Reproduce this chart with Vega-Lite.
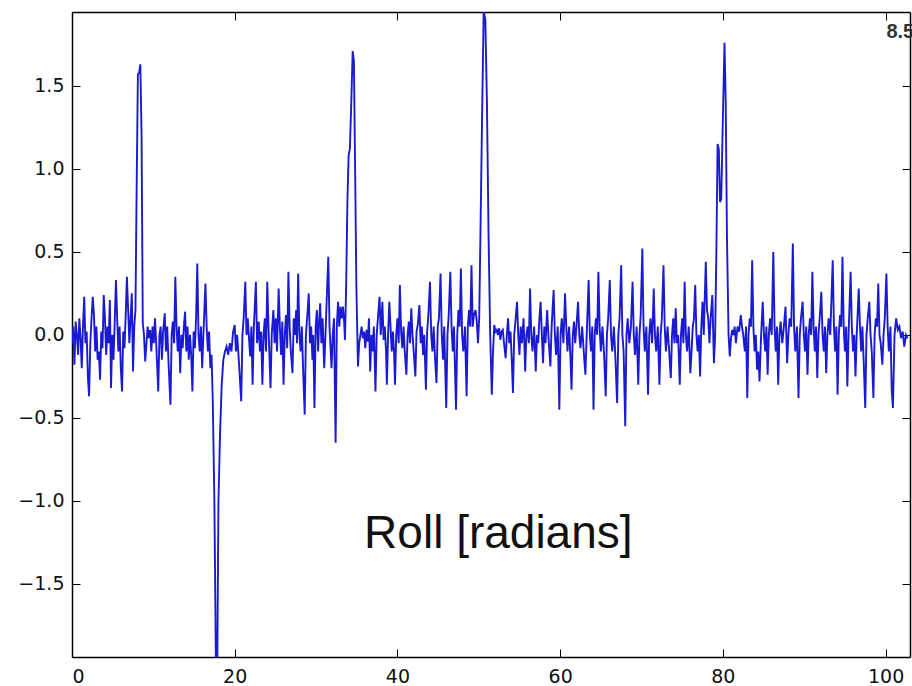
{
"$schema":"https://vega.github.io/schema/vega-lite/v6.json",
"width":838,"height":645,
"autosize":{"type":"none"},
"padding":{"left":72,"top":12,"right":2,"bottom":29},
"background":"white",
"config":{"view":{"stroke":null},"axis":{"grid":false,"domainColor":"#000","domainWidth":1.5,"tickColor":"#000","tickWidth":1,"tickSize":-8,"labelFont":"DejaVu Sans","labelFontSize":19,"labelColor":"#111","title":null}},
"datasets":{
"roll":[
{"x":0.0,"y":-0.05},{"x":0.15,"y":0.05},{"x":0.3,"y":-0.18},{"x":0.45,"y":0.08},{"x":0.6,"y":0.0},{"x":0.75,"y":-0.12},{"x":0.9,"y":0.1},{"x":1.05,"y":-0.02},{"x":1.2,"y":-0.2},{"x":1.35,"y":0.05},{"x":1.5,"y":0.23},{"x":1.65,"y":-0.05},{"x":1.8,"y":0.02},{"x":1.95,"y":-0.25},{"x":2.1,"y":-0.37},{"x":2.25,"y":-0.05},{"x":2.4,"y":0.1},{"x":2.55,"y":0.23},{"x":2.7,"y":0.12},{"x":2.85,"y":-0.1},{"x":3.0,"y":0.05},{"x":3.15,"y":-0.15},{"x":3.3,"y":-0.1},{"x":3.45,"y":-0.27},{"x":3.6,"y":0.02},{"x":3.75,"y":-0.08},{"x":3.9,"y":0.24},{"x":4.05,"y":0.1},{"x":4.2,"y":-0.12},{"x":4.35,"y":0.05},{"x":4.5,"y":-0.05},{"x":4.65,"y":0.21},{"x":4.8,"y":-0.32},{"x":4.95,"y":0.0},{"x":5.1,"y":-0.15},{"x":5.25,"y":0.08},{"x":5.4,"y":0.33},{"x":5.55,"y":0.1},{"x":5.7,"y":-0.1},{"x":5.85,"y":0.05},{"x":6.0,"y":-0.2},{"x":6.15,"y":-0.34},{"x":6.3,"y":0.02},{"x":6.45,"y":-0.08},{"x":6.6,"y":0.12},{"x":6.75,"y":0.35},{"x":6.9,"y":0.15},{"x":7.05,"y":-0.05},{"x":7.2,"y":0.1},{"x":7.35,"y":0.25},{"x":7.5,"y":-0.22},{"x":7.65,"y":0.05},{"x":7.8,"y":0.15},{"x":7.95,"y":0.9},{"x":8.1,"y":1.57},{"x":8.25,"y":1.58},{"x":8.4,"y":1.63},{"x":8.55,"y":1.2},{"x":8.7,"y":0.07},
{"x":8.85,"y":0.0},{"x":9.0,"y":-0.16},{"x":9.15,"y":-0.05},{"x":9.3,"y":0.05},{"x":9.45,"y":-0.02},{"x":9.6,"y":0.03},{"x":9.75,"y":-0.1},{"x":9.9,"y":0.05},{"x":10.05,"y":-0.05},{"x":10.2,"y":0.1},{"x":10.35,"y":-0.05},{"x":10.6,"y":-0.34},{"x":10.75,"y":0.0},{"x":10.9,"y":0.05},{"x":11.05,"y":-0.15},{"x":11.2,"y":0.02},{"x":11.4,"y":0.13},{"x":11.55,"y":-0.1},{"x":11.7,"y":0.05},{"x":11.85,"y":-0.15},{"x":12.1,"y":-0.42},{"x":12.25,"y":0.0},{"x":12.4,"y":0.08},{"x":12.55,"y":-0.05},{"x":12.7,"y":0.35},{"x":12.85,"y":0.05},{"x":13.0,"y":-0.1},{"x":13.15,"y":0.05},{"x":13.3,"y":-0.23},{"x":13.45,"y":0.0},{"x":13.6,"y":-0.08},{"x":13.75,"y":0.05},{"x":13.9,"y":0.14},{"x":14.05,"y":-0.1},{"x":14.2,"y":0.05},{"x":14.35,"y":-0.15},{"x":14.5,"y":0.0},{"x":14.65,"y":-0.12},{"x":14.8,"y":-0.34},{"x":14.95,"y":0.02},{"x":15.1,"y":-0.08},{"x":15.25,"y":0.1},{"x":15.4,"y":0.43},{"x":15.55,"y":0.0},{"x":15.7,"y":-0.1},{"x":15.85,"y":0.05},{"x":16.0,"y":-0.2},{"x":16.15,"y":0.0},{"x":16.4,"y":0.31},{"x":16.55,"y":0.05},{"x":16.7,"y":-0.1},{"x":16.85,"y":0.02},{"x":17.0,"y":-0.2},{"x":17.15,"y":-0.12},{"x":17.3,"y":-0.39},{"x":17.5,"y":-1.0},{"x":17.7,"y":-2.05},{"x":17.85,"y":-2.05},{"x":18.0,"y":-1.0},{"x":18.2,"y":-0.59},{"x":18.4,"y":-0.3},{"x":18.6,"y":-0.15},{"x":18.8,"y":-0.1},{"x":19.0,"y":-0.07},{"x":19.2,"y":-0.12},{"x":19.4,"y":-0.05},{"x":19.6,"y":-0.1},{"x":19.8,"y":0.02},
{"x":20.0,"y":0.06},{"x":20.15,"y":-0.1},{"x":20.3,"y":0.0},{"x":20.5,"y":-0.15},{"x":20.8,"y":-0.4},{"x":20.95,"y":0.0},{"x":21.1,"y":0.1},{"x":21.3,"y":0.32},{"x":21.45,"y":0.0},{"x":21.6,"y":0.1},{"x":21.9,"y":-0.13},{"x":22.05,"y":0.05},{"x":22.2,"y":-0.3},{"x":22.35,"y":0.05},{"x":22.45,"y":0.15},{"x":22.6,"y":0.32},{"x":22.75,"y":-0.05},{"x":22.95,"y":0.08},{"x":23.1,"y":-0.1},{"x":23.25,"y":0.02},{"x":23.4,"y":-0.3},{"x":23.55,"y":0.0},{"x":23.7,"y":0.1},{"x":23.85,"y":-0.1},{"x":24.0,"y":0.32},{"x":24.15,"y":0.05},{"x":24.4,"y":-0.32},{"x":24.55,"y":0.0},{"x":24.75,"y":0.15},{"x":24.9,"y":-0.05},{"x":25.05,"y":0.1},{"x":25.2,"y":-0.1},{"x":25.4,"y":0.28},{"x":25.55,"y":0.05},{"x":25.7,"y":-0.12},{"x":25.85,"y":0.08},{"x":26.0,"y":-0.3},{"x":26.15,"y":0.0},{"x":26.3,"y":0.12},{"x":26.45,"y":-0.08},{"x":26.6,"y":0.38},{"x":26.75,"y":0.05},{"x":26.9,"y":-0.1},{"x":27.1,"y":-0.23},{"x":27.25,"y":0.1},{"x":27.4,"y":0.0},{"x":27.55,"y":0.15},{"x":27.65,"y":-0.05},{"x":27.8,"y":0.37},{"x":27.95,"y":0.0},{"x":28.1,"y":-0.1},{"x":28.25,"y":0.05},{"x":28.4,"y":-0.2},{"x":28.6,"y":-0.48},{"x":28.75,"y":0.0},{"x":28.9,"y":0.1},{"x":29.1,"y":0.25},{"x":29.25,"y":-0.05},{"x":29.4,"y":0.05},{"x":29.55,"y":-0.15},{"x":29.65,"y":0.0},{"x":29.8,"y":-0.44},{"x":29.95,"y":0.05},{"x":30.1,"y":0.15},{"x":30.25,"y":-0.1},{"x":30.35,"y":0.05},{"x":30.5,"y":0.19},{"x":30.65,"y":-0.05},{"x":30.8,"y":0.1},{"x":31.0,"y":-0.2},{"x":31.15,"y":0.0},{"x":31.3,"y":0.2},{"x":31.5,"y":0.47},{"x":31.65,"y":0.05},{"x":31.9,"y":-0.2},{"x":32.05,"y":0.0},{"x":32.2,"y":0.1},{"x":32.4,"y":-0.65},{"x":32.55,"y":0.05},{"x":32.7,"y":0.2},{"x":32.85,"y":0.05},{"x":33.0,"y":0.17},{"x":33.15,"y":0.1},{"x":33.3,"y":0.17},{"x":33.45,"y":0.08},{"x":33.55,"y":-0.03},{"x":33.7,"y":0.3},{"x":33.85,"y":0.8},{"x":34.0,"y":1.08},{"x":34.15,"y":1.12},{"x":34.3,"y":1.35},{"x":34.5,"y":1.71},{"x":34.65,"y":1.65},{"x":34.8,"y":1.0},{"x":34.95,"y":0.3},{"x":35.15,"y":-0.19},{"x":35.3,"y":-0.05},{"x":35.45,"y":0.0},{"x":35.6,"y":0.05},{"x":35.75,"y":-0.02},{"x":35.9,"y":0.02},{"x":36.05,"y":-0.08},{"x":36.2,"y":0.03},{"x":36.35,"y":-0.04},{"x":36.5,"y":0.1},{"x":36.65,"y":-0.22},{"x":36.8,"y":0.0},{"x":36.95,"y":-0.1},{"x":37.1,"y":0.05},{"x":37.3,"y":-0.34},{"x":37.45,"y":0.0},{"x":37.6,"y":0.1},{"x":37.8,"y":0.23},{"x":37.95,"y":0.0},
{"x":38.15,"y":0.2},{"x":38.3,"y":-0.03},{"x":38.45,"y":0.05},{"x":38.6,"y":-0.1},{"x":38.7,"y":-0.3},{"x":38.85,"y":0.0},{"x":39.0,"y":0.2},{"x":39.15,"y":0.05},{"x":39.3,"y":-0.1},{"x":39.45,"y":0.02},{"x":39.6,"y":-0.12},{"x":39.7,"y":-0.3},{"x":39.85,"y":0.0},{"x":40.0,"y":0.1},{"x":40.15,"y":-0.05},{"x":40.3,"y":0.3},{"x":40.45,"y":0.02},{"x":40.6,"y":-0.08},{"x":40.75,"y":0.05},{"x":40.9,"y":-0.1},{"x":41.1,"y":-0.24},{"x":41.25,"y":0.0},{"x":41.4,"y":0.08},{"x":41.55,"y":-0.05},{"x":41.7,"y":0.16},{"x":41.85,"y":0.0},{"x":42.0,"y":-0.1},{"x":42.2,"y":-0.25},{"x":42.35,"y":0.02},{"x":42.5,"y":0.06},{"x":42.7,"y":0.18},{"x":42.85,"y":-0.05},{"x":43.0,"y":0.05},{"x":43.15,"y":-0.12},{"x":43.3,"y":0.0},{"x":43.5,"y":-0.33},{"x":43.65,"y":0.02},{"x":43.8,"y":0.12},{"x":44.0,"y":0.32},{"x":44.15,"y":0.0},{"x":44.3,"y":-0.1},{"x":44.45,"y":0.05},{"x":44.6,"y":-0.12},{"x":44.8,"y":-0.29},{"x":44.95,"y":0.05},{"x":45.1,"y":0.1},{"x":45.3,"y":0.37},{"x":45.45,"y":0.0},{"x":45.6,"y":-0.15},{"x":45.75,"y":0.05},{"x":46.0,"y":-0.44},{"x":46.15,"y":0.0},{"x":46.3,"y":0.12},{"x":46.5,"y":0.38},{"x":46.65,"y":0.05},{"x":46.8,"y":-0.1},{"x":46.95,"y":0.05},{"x":47.2,"y":-0.45},{"x":47.35,"y":0.0},{"x":47.5,"y":0.15},{"x":47.65,"y":0.05},{"x":47.8,"y":0.4},{"x":47.95,"y":0.0},{"x":48.1,"y":-0.1},{"x":48.3,"y":0.05},{"x":48.5,"y":-0.37},{"x":48.65,"y":0.05},{"x":48.8,"y":0.15},{"x":48.95,"y":0.05},{"x":49.1,"y":0.42},{"x":49.25,"y":0.05},{"x":49.4,"y":0.12},{"x":49.6,"y":0.15},{"x":49.75,"y":0.08},{"x":49.9,"y":-0.05},{"x":50.05,"y":0.1},{"x":50.2,"y":0.6},{"x":50.4,"y":1.3},{"x":50.6,"y":1.95},{"x":50.8,"y":1.9},{"x":51.0,"y":1.4},{"x":51.2,"y":0.6},{"x":51.4,"y":0.0},{"x":51.6,"y":-0.36},{"x":51.75,"y":-0.1},{"x":51.9,"y":0.06},{"x":52.05,"y":0.02},{"x":52.2,"y":0.03},{"x":52.35,"y":0.0},{"x":52.5,"y":0.04},{"x":52.65,"y":-0.03},{"x":52.8,"y":0.02},{"x":52.95,"y":0.03},{"x":53.1,"y":-0.05},{"x":53.3,"y":-0.14},{"x":53.45,"y":0.0},{"x":53.6,"y":0.1},{"x":53.75,"y":-0.05},{"x":53.9,"y":0.02},{"x":54.05,"y":-0.15},{"x":54.2,"y":-0.35},{"x":54.35,"y":0.0},{"x":54.5,"y":0.08},{"x":54.7,"y":0.2},{"x":54.85,"y":0.0},{"x":55.0,"y":-0.12},{"x":55.15,"y":0.05},{"x":55.3,"y":-0.05},{"x":55.5,"y":0.1},{"x":55.7,"y":-0.22},{"x":55.85,"y":0.0},{"x":56.0,"y":0.05},{"x":56.15,"y":-0.05},{"x":56.3,"y":0.28},{"x":56.45,"y":0.0},{"x":56.6,"y":-0.1},{"x":56.8,"y":0.05},{"x":57.0,"y":-0.22},{"x":57.15,"y":0.0},{"x":57.3,"y":-0.05},{"x":57.45,"y":0.1},
{"x":57.6,"y":0.2},{"x":57.75,"y":0.0},{"x":57.9,"y":-0.17},{"x":58.05,"y":0.05},{"x":58.2,"y":-0.05},{"x":58.4,"y":0.15},{"x":58.55,"y":0.0},{"x":58.8,"y":-0.19},{"x":58.95,"y":0.05},{"x":59.2,"y":0.27},{"x":59.35,"y":0.0},{"x":59.5,"y":-0.12},{"x":59.7,"y":0.05},{"x":59.9,"y":-0.45},{"x":60.05,"y":0.0},{"x":60.2,"y":0.1},{"x":60.4,"y":-0.05},{"x":60.6,"y":0.25},{"x":60.75,"y":0.05},{"x":60.9,"y":-0.1},{"x":61.1,"y":0.05},{"x":61.25,"y":-0.12},{"x":61.4,"y":-0.33},{"x":61.55,"y":0.0},{"x":61.7,"y":0.08},{"x":61.85,"y":-0.05},{"x":62.0,"y":0.05},{"x":62.2,"y":0.2},{"x":62.35,"y":0.0},{"x":62.5,"y":-0.08},{"x":62.7,"y":0.05},{"x":62.9,"y":-0.1},{"x":63.1,"y":-0.24},{"x":63.3,"y":0.05},{"x":63.5,"y":0.33},{"x":63.65,"y":0.0},{"x":63.8,"y":-0.1},{"x":63.95,"y":0.05},{"x":64.1,"y":-0.45},{"x":64.25,"y":0.0},{"x":64.4,"y":0.1},{"x":64.55,"y":0.0},{"x":64.7,"y":0.38},{"x":64.85,"y":0.05},{"x":65.0,"y":-0.1},{"x":65.2,"y":0.05},{"x":65.4,"y":-0.12},{"x":65.6,"y":-0.37},{"x":65.75,"y":0.0},{"x":65.9,"y":0.1},{"x":66.1,"y":0.33},{"x":66.25,"y":0.0},{"x":66.4,"y":-0.1},{"x":66.6,"y":0.05},{"x":66.8,"y":-0.15},{"x":67.0,"y":-0.41},{"x":67.15,"y":0.0},{"x":67.3,"y":0.1},{"x":67.5,"y":0.42},{"x":67.65,"y":0.0},{"x":67.8,"y":-0.1},{"x":68.0,"y":-0.55},{"x":68.15,"y":0.0},{"x":68.3,"y":0.1},{"x":68.5,"y":-0.05},{"x":68.7,"y":0.05},{"x":68.9,"y":0.32},{"x":69.05,"y":0.0},{"x":69.2,"y":-0.12},{"x":69.4,"y":0.05},{"x":69.6,"y":-0.3},{"x":69.75,"y":0.0},{"x":69.9,"y":0.12},{"x":70.1,"y":0.52},{"x":70.25,"y":0.05},{"x":70.4,"y":-0.1},{"x":70.6,"y":0.05},{"x":70.8,"y":-0.36},{"x":70.95,"y":0.0},{"x":71.1,"y":0.1},{"x":71.3,"y":-0.05},{"x":71.5,"y":0.28},{"x":71.65,"y":0.0},{"x":71.8,"y":-0.1},{"x":72.0,"y":0.05},{"x":72.2,"y":-0.3},{"x":72.35,"y":0.0},{"x":72.5,"y":0.1},{"x":72.7,"y":0.42},{"x":72.85,"y":0.05},{"x":73.0,"y":-0.1},{"x":73.2,"y":0.05},{"x":73.4,"y":-0.1},{"x":73.6,"y":-0.26},{"x":73.75,"y":0.0},{"x":73.9,"y":0.1},{"x":74.05,"y":-0.05},{"x":74.2,"y":0.16},{"x":74.35,"y":-0.05},{"x":74.5,"y":0.0},{"x":74.7,"y":-0.3},{"x":74.85,"y":0.0},{"x":75.0,"y":0.1},{"x":75.15,"y":-0.05},{"x":75.3,"y":0.32},{"x":75.45,"y":0.0},{"x":75.6,"y":-0.1},{"x":75.8,"y":0.05},{"x":76.0,"y":-0.23},{"x":76.15,"y":-0.1},{"x":76.3,"y":0.05},{"x":76.45,"y":0.1},{"x":76.6,"y":0.3},{"x":76.75,"y":0.0},{"x":76.9,"y":-0.1},{"x":77.05,"y":0.0},{"x":77.2,"y":-0.25},{"x":77.35,"y":0.05},{"x":77.5,"y":0.2},{"x":77.65,"y":0.0},{"x":77.9,"y":0.44},{"x":78.05,"y":0.15},{"x":78.2,"y":0.1},{"x":78.35,"y":-0.05},{"x":78.5,"y":0.1},{"x":78.7,"y":0.24},{"x":78.9,"y":-0.17},{"x":79.05,"y":0.0},{"x":79.2,"y":0.5},{"x":79.35,"y":1.15},{"x":79.5,"y":1.12},{"x":79.65,"y":0.8},{"x":79.8,"y":0.82},{"x":80.0,"y":1.3},{"x":80.2,"y":1.76},{"x":80.35,"y":1.4},{"x":80.5,"y":0.6},{"x":80.7,"y":0.0},{"x":80.85,"y":-0.13},{"x":81.0,"y":-0.02},{"x":81.15,"y":0.03},{"x":81.3,"y":0.0},{"x":81.45,"y":0.05},{"x":81.6,"y":-0.05},{"x":81.8,"y":0.05},{"x":82.0,"y":0.02},{"x":82.2,"y":0.12},{"x":82.35,"y":0.05},{"x":82.5,"y":0.0},{"x":82.7,"y":-0.1},{"x":82.85,"y":0.05},{"x":83.0,"y":-0.38},{"x":83.15,"y":0.0},{"x":83.3,"y":0.1},{"x":83.45,"y":0.05},{"x":83.6,"y":0.45},{"x":83.75,"y":0.05},{"x":83.9,"y":-0.1},{"x":84.05,"y":0.0},{"x":84.2,"y":-0.21},{"x":84.35,"y":-0.1},{"x":84.5,"y":-0.28},{"x":84.7,"y":0.0},{"x":84.9,"y":0.2},{"x":85.05,"y":0.0},{"x":85.2,"y":-0.1},{"x":85.35,"y":0.05},{"x":85.5,"y":-0.24},{"x":85.65,"y":0.0},{"x":85.8,"y":0.1},{"x":86.0,"y":0.0},{"x":86.2,"y":0.5},{"x":86.35,"y":0.05},{"x":86.5,"y":-0.1},{"x":86.65,"y":0.05},{"x":86.8,"y":-0.3},{"x":86.95,"y":0.0},{"x":87.1,"y":0.08},{"x":87.3,"y":-0.05},{"x":87.5,"y":0.05},{"x":87.7,"y":0.17},{"x":87.9,"y":-0.17},{"x":88.05,"y":0.0},{"x":88.2,"y":0.1},{"x":88.4,"y":0.05},{"x":88.6,"y":0.55},{"x":88.75,"y":0.05},{"x":88.9,"y":-0.1},{"x":89.1,"y":0.05},{"x":89.3,"y":-0.38},{"x":89.45,"y":0.0},{"x":89.6,"y":0.1},{"x":89.8,"y":0.2},{"x":89.95,"y":0.0},{"x":90.1,"y":-0.1},{"x":90.25,"y":0.05},{"x":90.4,"y":-0.24},{"x":90.55,"y":0.0},{"x":90.7,"y":0.1},{"x":90.85,"y":0.0},{"x":91.0,"y":0.38},{"x":91.15,"y":0.05},{"x":91.3,"y":-0.1},{"x":91.45,"y":0.05},{"x":91.6,"y":-0.26},{"x":91.75,"y":0.0},{"x":91.9,"y":0.1},{"x":92.1,"y":0.26},{"x":92.25,"y":0.0},{"x":92.4,"y":-0.1},{"x":92.55,"y":0.05},{"x":92.7,"y":-0.23},{"x":92.85,"y":0.0},{"x":93.0,"y":0.1},{"x":93.2,"y":0.0},{"x":93.5,"y":0.45},{"x":93.65,"y":0.05},{"x":93.8,"y":-0.1},{"x":93.95,"y":0.05},{"x":94.1,"y":-0.36},{"x":94.25,"y":0.0},{"x":94.4,"y":0.12},{"x":94.55,"y":0.05},{"x":94.7,"y":0.47},{"x":94.85,"y":0.05},{"x":95.0,"y":-0.1},{"x":95.15,"y":0.05},{"x":95.3,"y":-0.31},{"x":95.45,"y":0.0},{"x":95.7,"y":0.38},{"x":95.85,"y":0.05},{"x":96.0,"y":-0.1},{"x":96.15,"y":0.0},{"x":96.3,"y":-0.25},{"x":96.45,"y":0.0},{"x":96.7,"y":0.28},{"x":96.85,"y":0.05},{"x":97.0,"y":-0.1},{"x":97.15,"y":0.05},{"x":97.3,"y":-0.15},{"x":97.5,"y":-0.44},{"x":97.65,"y":0.0},{"x":97.8,"y":0.1},{"x":98.0,"y":0.2},{"x":98.15,"y":0.0},{"x":98.3,"y":-0.1},{"x":98.5,"y":-0.38},{"x":98.65,"y":0.0},{"x":98.8,"y":0.1},{"x":98.95,"y":0.05},{"x":99.1,"y":0.31},{"x":99.25,"y":0.0},{"x":99.4,"y":-0.05},{"x":99.6,"y":-0.18},{"x":99.75,"y":0.0},{"x":99.9,"y":0.1},{"x":100.1,"y":0.37},{"x":100.25,"y":0.05},{"x":100.4,"y":-0.1},{"x":100.6,"y":0.05},{"x":100.75,"y":-0.33},{"x":100.9,"y":-0.44},{"x":101.1,"y":0.0},{"x":101.3,"y":0.1},{"x":101.5,"y":0.03},{"x":101.7,"y":0.05},{"x":101.9,"y":-0.02},{"x":102.1,"y":0.02},{"x":102.3,"y":-0.07},{"x":102.5,"y":0.0},{"x":102.7,"y":-0.02}
],
"notes":[{"label":"Roll [radians]"}],
"corner":[{"label":"8.5"}]
},
"layer":[
{"data":{"name":"roll"},
 "mark":{"type":"line","color":"#1a1ad2","strokeWidth":1.9,"clip":true},
 "encoding":{
  "x":{"field":"x","type":"quantitative","scale":{"domain":[0,103],"nice":false,"zero":false},"axis":{"orient":"bottom","values":[0,20,40,60,80,100],"labelPadding":18,"title":null}},
  "y":{"field":"y","type":"quantitative","scale":{"domain":[-1.94,1.945],"nice":false,"zero":false},"axis":{"orient":"left","values":[-1.5,-1,-0.5,0,0.5,1,1.5],"format":".1f","labelPadding":16,"title":null}}
 }},
{"data":{"name":"roll"},
 "mark":{"type":"point","opacity":0},
 "encoding":{
  "x":{"field":"x","type":"quantitative","axis":{"orient":"top","values":[0,20,40,60,80,100],"labels":false,"title":null}},
  "y":{"field":"y","type":"quantitative","axis":{"orient":"right","values":[-1.5,-1,-0.5,0,0.5,1,1.5],"labels":false,"title":null}}
 }},
{"data":{"name":"notes"},
 "mark":{"type":"text","font":"Liberation Sans","fontSize":46,"color":"#111","align":"center","baseline":"alphabetic"},
 "encoding":{"x":{"datum":52.4,"type":"quantitative","axis":null},"y":{"datum":-1.283,"type":"quantitative","axis":null},"text":{"field":"label"}}},
{"data":{"name":"corner"},
 "mark":{"type":"text","font":"Liberation Sans","fontSize":20,"fontWeight":"bold","color":"#333","align":"left","baseline":"alphabetic"},
 "encoding":{"x":{"datum":100.1,"type":"quantitative","axis":null},"y":{"datum":1.79,"type":"quantitative","axis":null},"text":{"field":"label"}}}
],
"resolve":{"scale":{"x":"shared","y":"shared"}}
}
